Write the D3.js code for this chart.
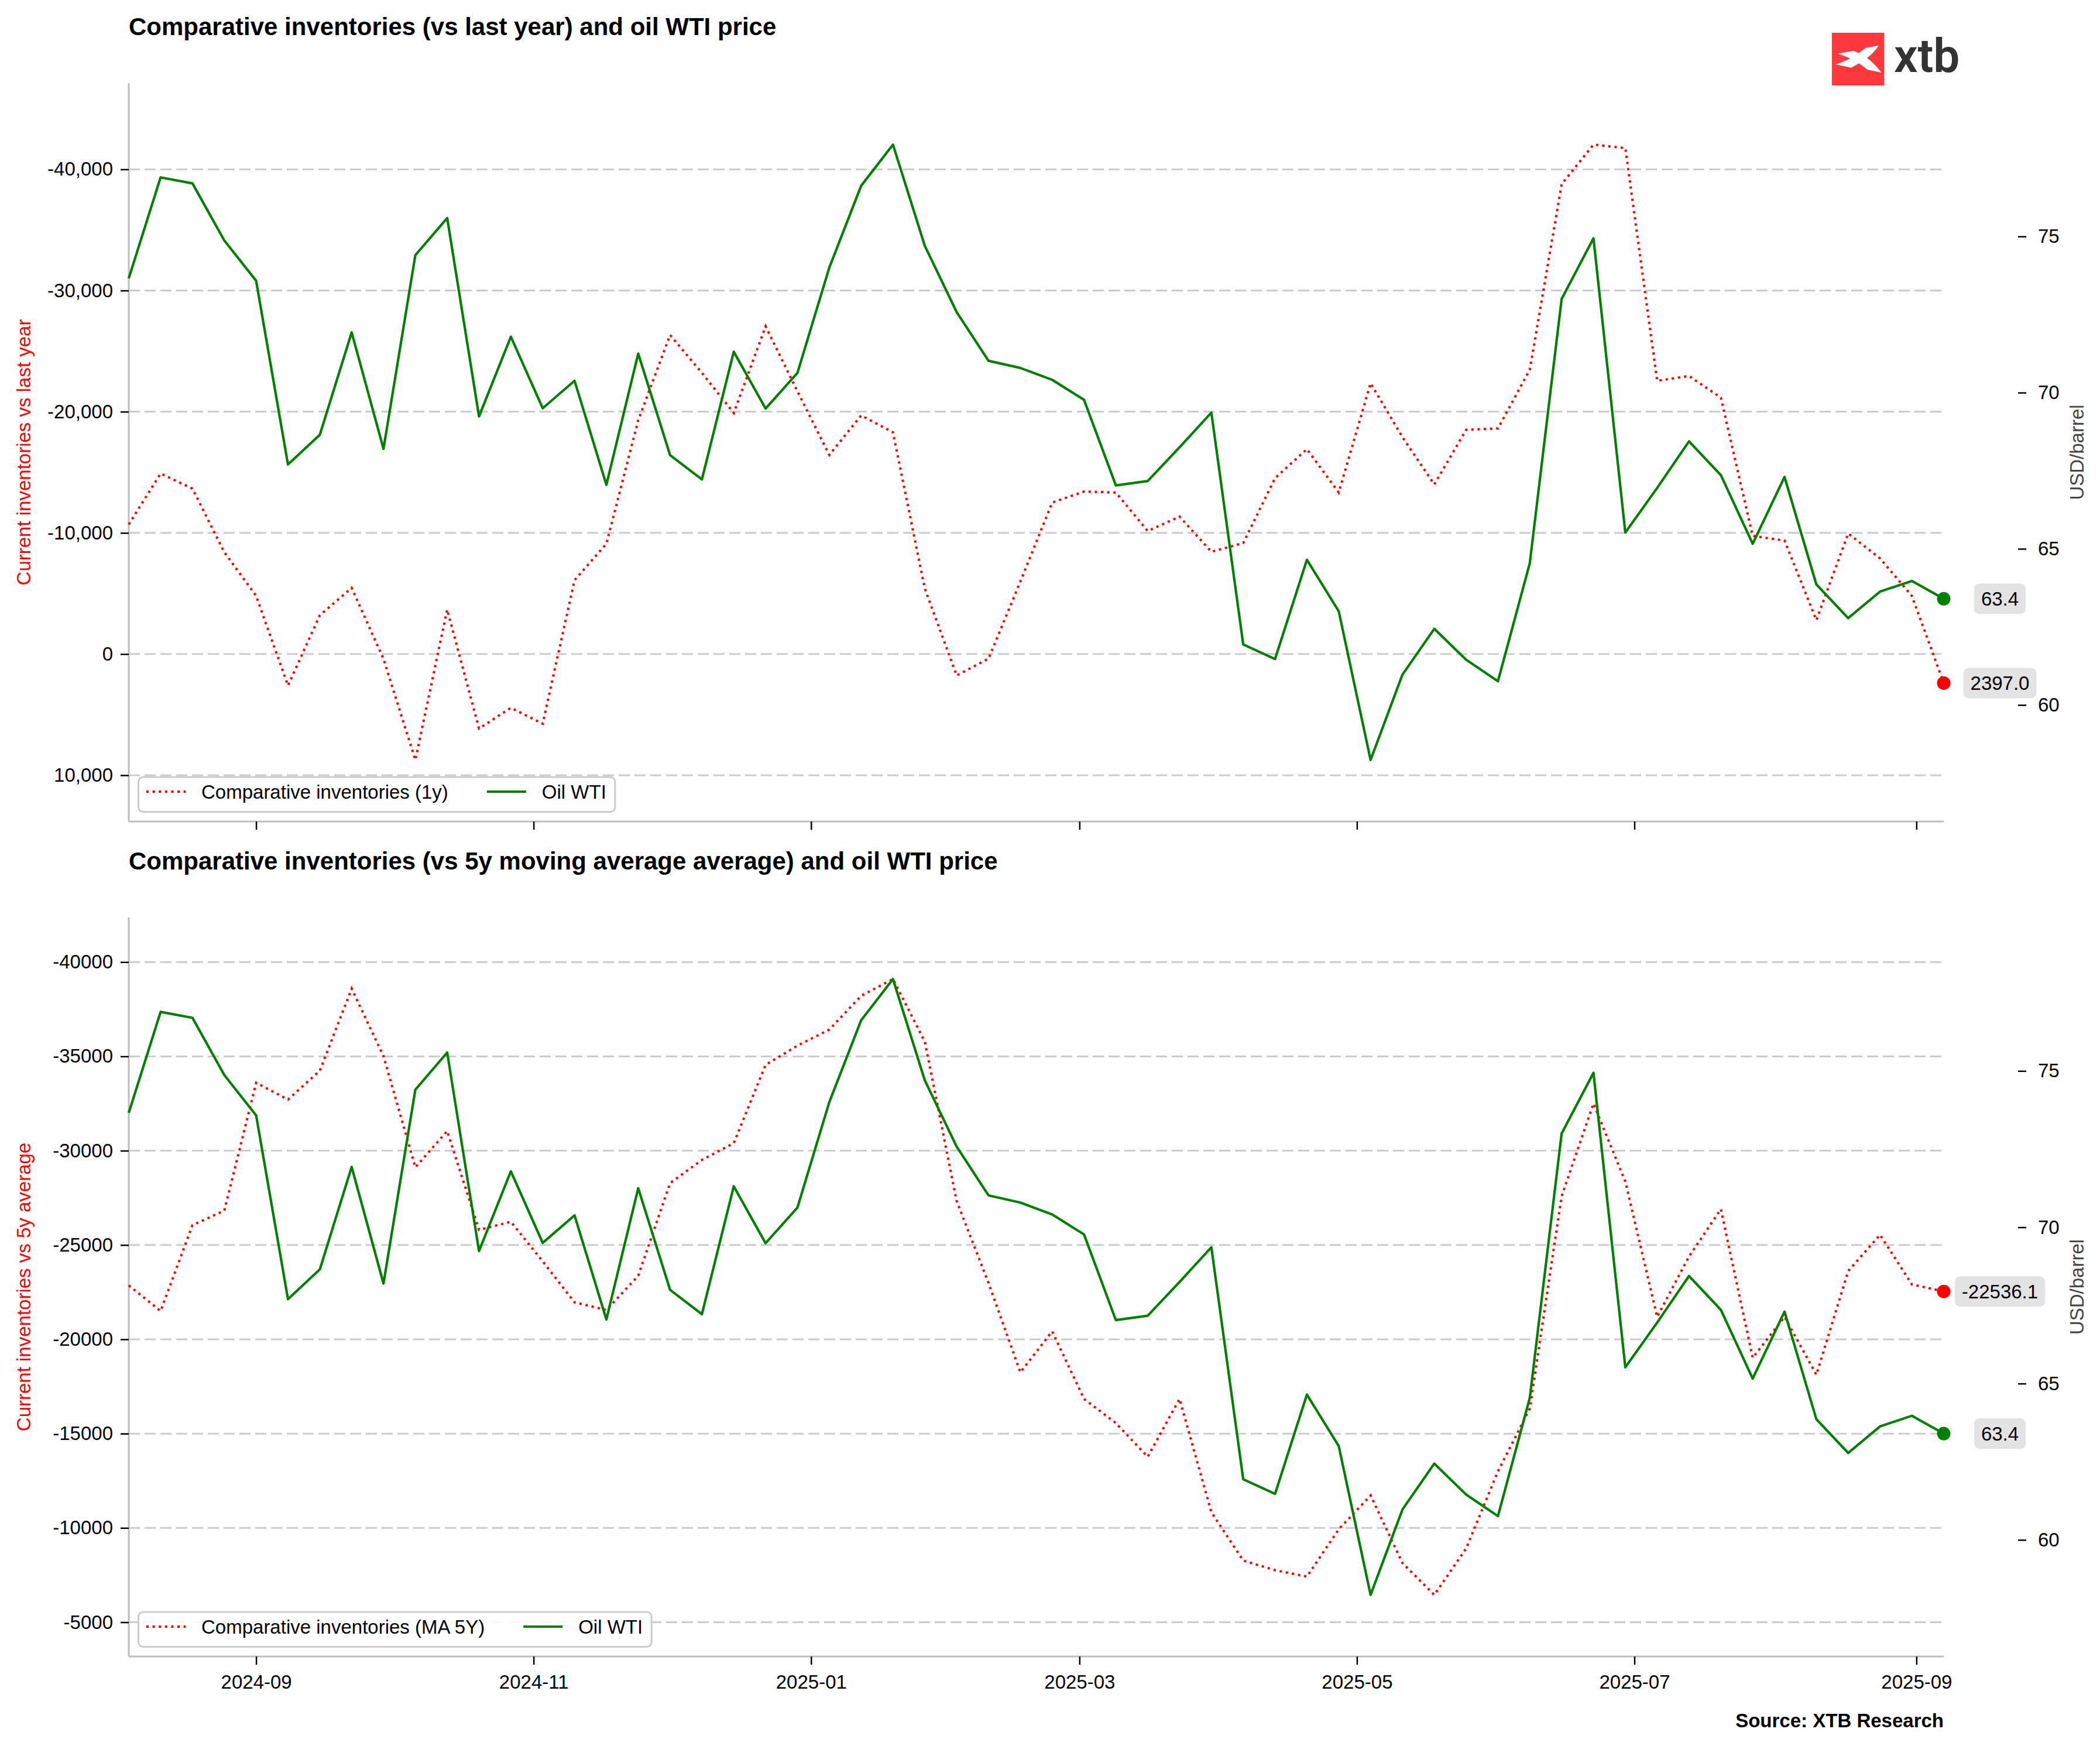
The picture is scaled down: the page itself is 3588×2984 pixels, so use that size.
<!DOCTYPE html>
<html>
<head>
<meta charset="utf-8">
<script src="https://cdn.jsdelivr.net/npm/d3@7"></script>
<style>
body { margin: 0; background: #fff; }
svg { display: block; font-family: "Liberation Sans", Arial, sans-serif; }
</style>
</head>
<body>
<svg id="chart"></svg>
<script>
// weekly observations
const dates = [
  "2024-08-04","2024-08-11","2024-08-18","2024-08-25","2024-09-01","2024-09-08","2024-09-15","2024-09-22","2024-09-29",
  "2024-10-06","2024-10-13","2024-10-20","2024-10-27","2024-11-03","2024-11-10","2024-11-17","2024-11-24",
  "2024-12-01","2024-12-08","2024-12-15","2024-12-22","2024-12-29","2025-01-05","2025-01-12","2025-01-19","2025-01-26",
  "2025-02-02","2025-02-09","2025-02-16","2025-02-23","2025-03-02","2025-03-09","2025-03-16","2025-03-23","2025-03-30",
  "2025-04-06","2025-04-13","2025-04-20","2025-04-27","2025-05-04","2025-05-11","2025-05-18","2025-05-25",
  "2025-06-01","2025-06-08","2025-06-15","2025-06-22","2025-06-29","2025-07-06","2025-07-13","2025-07-20","2025-07-27",
  "2025-08-03","2025-08-10","2025-08-17","2025-08-24","2025-08-31","2025-09-07"
];

const oilWTI = [
  73.66, 76.89, 76.70, 74.87, 73.58, 67.70, 68.65, 71.93, 68.20, 74.40, 75.59, 69.24, 71.79, 69.50, 70.38,
  67.05, 71.25, 68.00, 67.22, 71.31, 69.49, 70.63, 74.00, 76.62, 77.94, 74.70, 72.58, 71.02, 70.79,
  70.41, 69.77, 67.03, 67.17, 68.25, 69.36, 61.94, 61.47, 64.65, 63.00, 58.24, 60.97, 62.44, 61.45, 60.76,
  64.54, 73.00, 74.94, 65.52, 66.95, 68.44, 67.36, 65.16, 67.30, 63.86, 62.78, 63.63, 63.97, 63.40
];

// comparative inventories vs last year
const inv1y = [
  -10700, -14900, -13650, -8400, -4800, 2600, -3200, -5460, 400, 8740, -3670, 6150, 4440, 5750, -6100,
  -9100, -19300, -26330, -23200, -19890, -27040, -21680, -16430, -19690, -18300, -5400, 1770, 380, -5980,
  -12500, -13410, -13330, -10150, -11340, -8440, -9160, -14520, -16910, -13330, -22350, -17900, -14000, -18500, -18620,
  -23470, -38770, -42040, -41750, -22550, -22950, -21160, -9750, -9360, -2800, -9950, -7890, -4790, 2397.0
];

// comparative inventories vs 5y moving average
const invMA5y = [
  -22856, -21500, -26050, -26820, -33600, -32710, -34240, -38590, -35010, -29120, -31040, -25800, -26230, -24130, -21960,
  -21550, -23370, -28280, -29510, -30400, -34550, -35570, -36420, -38210, -39100, -35780, -27330, -22990, -18250,
  -20420, -16840, -15560, -13770, -16840, -10830, -8270, -7760, -7420, -9930, -11720, -8140, -6450, -8910, -13000,
  -16330, -27590, -32500, -28360, -21190, -24390, -26900, -19020, -21190, -18120, -23620, -25540, -22910, -22536.1
];

const monthTicks = ["2024-09-01","2024-11-01","2025-01-01","2025-03-01","2025-05-01","2025-07-01","2025-09-01"];
const ticks1y = [-40000, -30000, -20000, -10000, 0, 10000];
const ticks5y = [-40000, -35000, -30000, -25000, -20000, -15000, -10000, -5000];
const oilTicks = [60, 65, 70, 75];

const width = 3588;
const height = 2984;
const fs = 33;

const svg = d3.select("#chart")
    .attr("width", width)
    .attr("height", height);

svg.append("rect").attr("width", width).attr("height", height).attr("fill", "#fff");

const parse = d3.timeParse("%Y-%m-%d");
const dd = dates.map(parse);

const x = d3.scaleTime()
    .domain(d3.extent(dd))
    .range([220, 3321]);

// matplotlib-like 10% margins
function padExtent(arr, k) {
    const e = d3.extent(arr);
    const p = (e[1] - e[0]) * k;
    return [e[0] - p, e[1] + p];
}

const hyphen = s => s.replace(/\u2212/g, "-");

function drawPanel(p) {
    const g = svg.append("g");
    const x0 = x.range()[0], x1 = x.range()[1];

    const yL = d3.scaleLinear().domain(padExtent(p.inv, 0.1)).range([p.top, p.bottom]);
    const yR = d3.scaleLinear().domain(padExtent(oilWTI, 0.1)).range([p.bottom, p.top]);

    // title
    g.append("text")
        .attr("x", x0).attr("y", p.top - 82)
        .attr("font-size", 42).attr("font-weight", "bold")
        .text(p.title);

    // grid
    g.selectAll(".grid")
        .data(p.ticks)
        .enter()
        .append("line")
        .attr("x1", x0).attr("x2", x1)
        .attr("y1", d => yL(d)).attr("y2", d => yL(d))
        .attr("stroke", "#cccccc")
        .attr("stroke-width", 3)
        .attr("stroke-dasharray", "19 8");

    // spines
    g.append("line").attr("x1", x0).attr("x2", x0).attr("y1", p.top).attr("y2", p.bottom)
        .attr("stroke", "#bdbdbd").attr("stroke-width", 3);
    g.append("line").attr("x1", x0).attr("x2", x1).attr("y1", p.bottom).attr("y2", p.bottom)
        .attr("stroke", "#bdbdbd").attr("stroke-width", 3);

    // left axis
    const axL = g.append("g")
        .attr("transform", `translate(${x0},0)`)
        .call(d3.axisLeft(yL).tickValues(p.ticks).tickSize(14).tickPadding(13)
            .tickFormat(d => hyphen(p.fmt(d))));
    axL.select(".domain").remove();

    // right axis (offset outward, no spine)
    const axR = g.append("g")
        .attr("transform", "translate(3448,0)")
        .call(d3.axisRight(yR).tickValues(oilTicks).tickSize(14).tickPadding(20)
            .tickFormat(d3.format("d")));
    axR.select(".domain").remove();

    // bottom axis
    const axB = g.append("g")
        .attr("transform", `translate(0,${p.bottom})`)
        .call(d3.axisBottom(x).tickValues(monthTicks.map(parse)).tickSize(14).tickPadding(18)
            .tickFormat(p.xLabels ? d3.timeFormat("%Y-%m") : ""));
    axB.select(".domain").remove();

    [axL, axR, axB].forEach(a => {
        a.selectAll("line").attr("stroke", "#000").attr("stroke-width", 2.5);
        a.selectAll("text").attr("font-size", fs).attr("fill", "#000")
            .attr("font-family", "Liberation Sans, Arial, sans-serif");
    });

    // axis labels
    g.append("text")
        .attr("transform", `translate(40,${(p.top + p.bottom) / 2}) rotate(-90)`)
        .attr("text-anchor", "middle").attr("dominant-baseline", "central")
        .attr("font-size", fs).attr("fill", "#ff0000")
        .text(p.yLabel);
    g.append("text")
        .attr("transform", `translate(3548,${(p.top + p.bottom) / 2}) rotate(-90)`)
        .attr("text-anchor", "middle").attr("dominant-baseline", "central")
        .attr("font-size", fs).attr("fill", "#444")
        .text("USD/barrel");

    // lines
    const lineInv = d3.line().x((d, i) => x(dd[i])).y(d => yL(d));
    const lineOil = d3.line().x((d, i) => x(dd[i])).y(d => yR(d));

    g.append("path")
        .attr("d", lineInv(p.inv))
        .attr("fill", "none")
        .attr("stroke", "#ff0000")
        .attr("stroke-width", 4)
        .attr("stroke-dasharray", "4 6.6");

    g.append("path")
        .attr("d", lineOil(oilWTI))
        .attr("fill", "none")
        .attr("stroke", "#008000")
        .attr("stroke-width", 4.2)
        .attr("stroke-linejoin", "round");

    // last value markers
    const n = dd.length - 1;
    const marks = [
        { y: yL(p.inv[n]), color: "#ff0000", label: p.inv[n].toFixed(1) },
        { y: yR(oilWTI[n]), color: "#008000", label: oilWTI[n].toFixed(1) }
    ];
    marks.forEach(m => {
        g.append("circle").attr("cx", x(dd[n])).attr("cy", m.y).attr("r", 11.5).attr("fill", m.color);
        const lab = g.append("g");
        const box = lab.append("rect");
        const t = lab.append("text")
            .attr("x", 3417).attr("y", m.y)
            .attr("text-anchor", "middle").attr("dominant-baseline", "central")
            .attr("font-size", fs).attr("fill", "#000")
            .text(m.label);
        const w = t.node().getComputedTextLength();
        box.attr("x", 3417 - w / 2 - 12).attr("y", m.y - 26)
            .attr("width", w + 24).attr("height", 52)
            .attr("rx", 9).attr("fill", "#e3e3e3");
    });

    // legend
    const lg = g.append("g");
    const boxTop = p.bottom - 76;
    const frame = lg.append("rect");
    const sy = boxTop + 25;
    const ty = boxTop + 37;
    let cx = 250;
    const items = [
        { label: p.legend, color: "#ff0000", dash: "4 6.6" },
        { label: "Oil WTI", color: "#008000", dash: null }
    ];
    items.forEach((it, i) => {
        if (i > 0) cx += 66;
        lg.append("line")
            .attr("x1", cx).attr("x2", cx + 67).attr("y1", sy).attr("y2", sy)
            .attr("stroke", it.color).attr("stroke-width", 4)
            .attr("stroke-dasharray", it.dash);
        cx += 67 + 27;
        const t = lg.append("text").attr("x", cx).attr("y", ty)
            .attr("font-size", fs).attr("fill", "#000").text(it.label);
        cx += t.node().getComputedTextLength();
    });
    frame.attr("x", 236.5).attr("y", boxTop)
        .attr("width", cx + 15 - 236.5).attr("height", 59.5)
        .attr("rx", 8)
        .attr("fill", "#fff").attr("fill-opacity", 0.85)
        .attr("stroke", "#cccccc").attr("stroke-width", 3);
}

drawPanel({
    top: 142, bottom: 1404,
    inv: inv1y, ticks: ticks1y, fmt: d3.format(","),
    title: "Comparative inventories (vs last year) and oil WTI price",
    yLabel: "Current inventories vs last year",
    legend: "Comparative inventories (1y)",
    xLabels: false
});

drawPanel({
    top: 1568, bottom: 2831,
    inv: invMA5y, ticks: ticks5y, fmt: d3.format("d"),
    title: "Comparative inventories (vs 5y moving average average) and oil WTI price",
    yLabel: "Current inventories vs 5y average",
    legend: "Comparative inventories (MA 5Y)",
    xLabels: true
});

// source
svg.append("text")
    .attr("x", 3321).attr("y", 2952)
    .attr("text-anchor", "end")
    .attr("font-size", 33).attr("font-weight", "bold")
    .text("Source: XTB Research");

// xtb logo
const logo = svg.append("g").attr("transform", "translate(3130,56)");
logo.append("rect").attr("width", 89).attr("height", 90).attr("fill", "#ff383b");
logo.append("path")
    .attr("d", "M9.7 35.7 L36.7 30.7 L46.1 34.7 L57.4 25.7 L79.9 21.7 Q72 34 60 43 Q74 54 84.4 68 L61.1 63.3 L46.1 52.3 L33 59.7 L5.6 54 Q19 50 31 44 Q20 38.5 9.7 35.7 Z")
    .attr("fill", "#fff");
svg.append("text")
    .attr("x", 3236).attr("y", 123)
    .attr("font-size", 80).attr("font-weight", 600)
    .attr("font-family", "Roboto, 'Liberation Sans', sans-serif")
    .attr("fill", "#333")
    .text("xtb");
</script>
</body>
</html>
